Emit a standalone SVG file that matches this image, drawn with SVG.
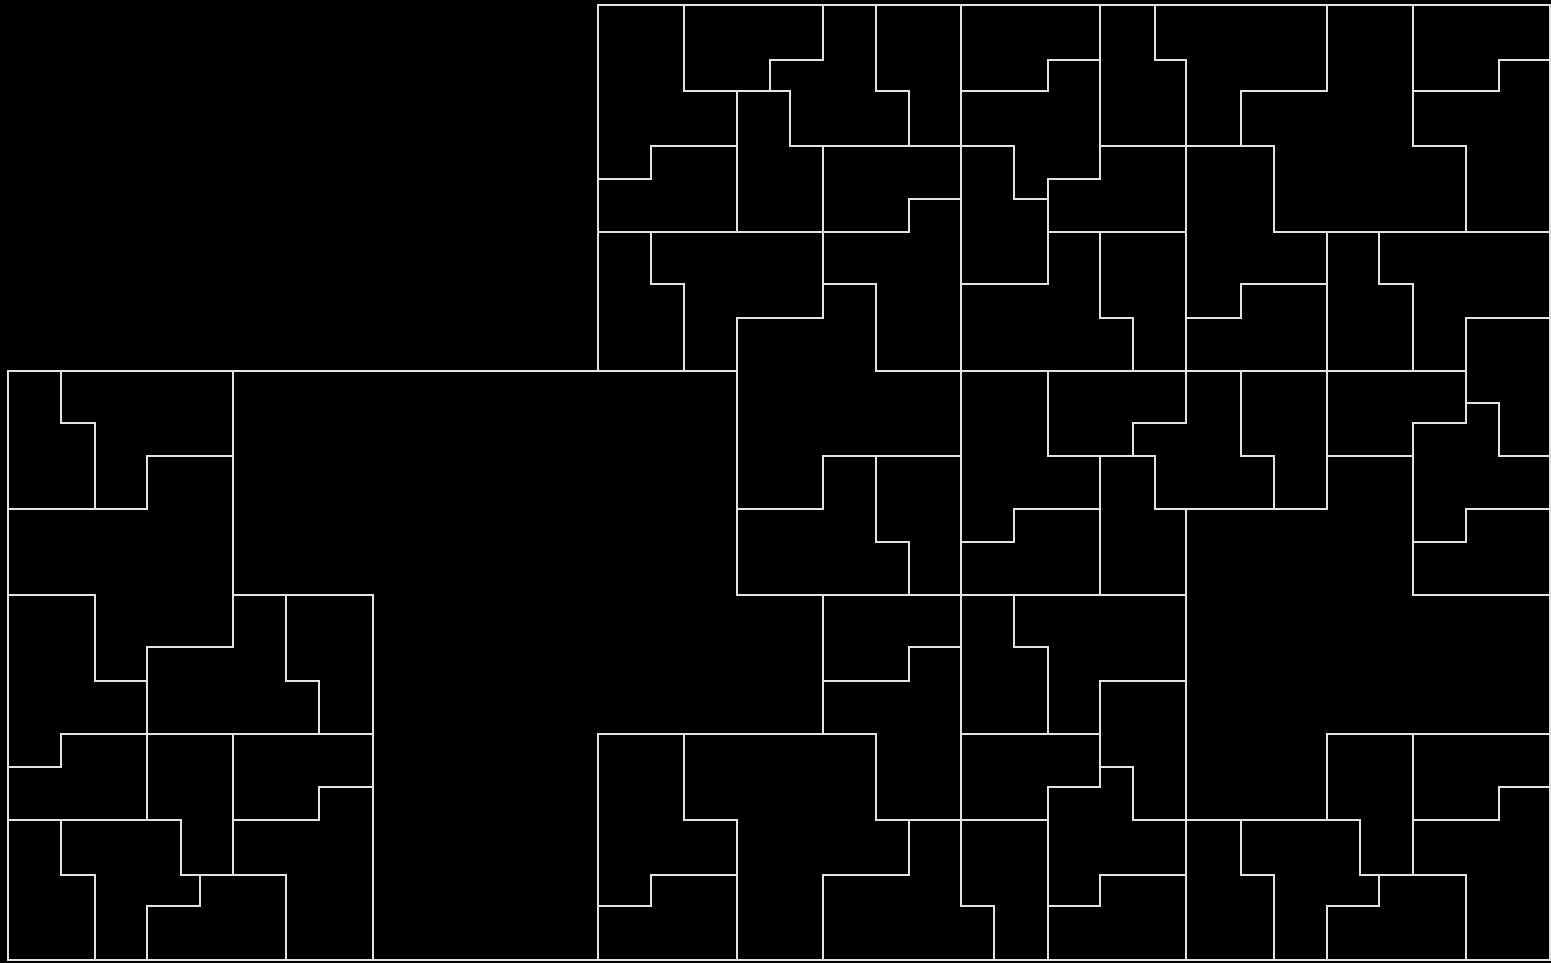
<svg xmlns="http://www.w3.org/2000/svg" width="1551" height="963" viewBox="0 0 1551 963">
<style>
.l{fill:none;stroke:#e2e2e2;stroke-width:2;stroke-linecap:square;stroke-linejoin:miter}
</style>
<rect width="1551" height="963" fill="#000"/>
<g id="top-block" class="l">
<path d="M598 5 H1550 M598 5 V371"/>
<path d="M684 5 V91 H790 V146 H1014 V199 H1048"/>
<path d="M770 91 V60 H823 V5"/>
<path d="M876 5 V91 H909 V146"/>
<path d="M961 5 V906 H994 V960"/>
<path d="M961 91 H1048 V60 H1100"/>
<path d="M1100 5 V179 H1048 V284 H961"/>
<path d="M598 179 H651 V146 H737 M737 91 V232"/>
<path d="M598 232 H909 V199 H961"/>
<path d="M651 232 V284 H684 V371"/>
<path d="M823 146 V318 H737 V595 H1186"/>
<path d="M823 284 H876 V371"/>
<path d="M1100 146 H1274 V232 H1550"/>
<path d="M1048 232 H1186"/>
<path d="M1155 5 V60 H1186 V423 H1133 V456 H1048 V371"/>
<path d="M1327 5 V91 H1241 V146"/>
<path d="M1413 5 V146 H1466 V232"/>
<path d="M1413 91 H1499 V60 H1550"/>
<path d="M1100 232 V318 H1133 V371"/>
<path d="M1186 318 H1241 V284 H1327"/>
<path d="M1327 232 V509"/>
<path d="M1379 232 V284 H1413 V371"/>
</g>
<g id="middle-block" class="l">
<path d="M876 371 H1466"/>
<path d="M1550 318 H1466 V423 H1413 V595"/>
<path d="M1466 403 H1499 V456 H1550"/>
<path d="M8 371 H737"/>
<path d="M1241 371 V456 H1274 V509"/>
<path d="M1133 456 H1155 V509 H1327"/>
<path d="M1327 456 H1413"/>
<path d="M1100 456 V595"/>
<path d="M1100 509 H1014 V542 H961"/>
<path d="M823 456 H961 M823 456 V509 H737"/>
<path d="M876 456 V542 H909 V595"/>
<path d="M1550 509 H1466 V542 H1413"/>
<path d="M1413 595 H1550"/>
</g>
<g id="lower-block" class="l">
<path d="M823 595 V734 M823 681 H909 V647 H961"/>
<path d="M598 734 H876 V820 H1048"/>
<path d="M909 820 V875 H823 V960"/>
<path d="M1014 595 V647 H1048 V734"/>
<path d="M961 734 H1100"/>
<path d="M1100 681 V787 H1048 V960"/>
<path d="M1100 681 H1186"/>
<path d="M1100 767 H1133 V820 H1186"/>
<path d="M1186 875 H1100 V906 H1048"/>
<path d="M598 734 V960"/>
<path d="M684 734 V820 H737 V960"/>
<path d="M737 875 H651 V906 H598"/>
<path d="M1186 509 V960"/>
<path d="M1186 820 H1360 V875 H1466 V960"/>
<path d="M1241 820 V875 H1274 V960"/>
<path d="M1327 734 V820 M1327 734 H1550"/>
<path d="M1413 734 V875"/>
<path d="M1550 787 H1499 V820 H1413"/>
<path d="M1327 960 V906 H1379 V875"/>
</g>
<g id="left-block" class="l">
<path d="M8 371 V960 H1550 M1550 5 V960"/>
<path d="M61 371 V423 H95 V509"/>
<path d="M8 509 H147 V456 H233"/>
<path d="M233 371 V647 H147 V820"/>
<path d="M8 595 H95 V681 H147"/>
<path d="M233 595 H373 V960"/>
<path d="M286 595 V681 H319 V734"/>
<path d="M8 767 H61 V734 H373"/>
<path d="M233 734 V875"/>
<path d="M373 787 H319 V820 H233"/>
<path d="M8 820 H181 V875 H286 V960"/>
<path d="M200 875 V906 H147 V960"/>
<path d="M61 820 V875 H95 V960"/>
</g>
</svg>
